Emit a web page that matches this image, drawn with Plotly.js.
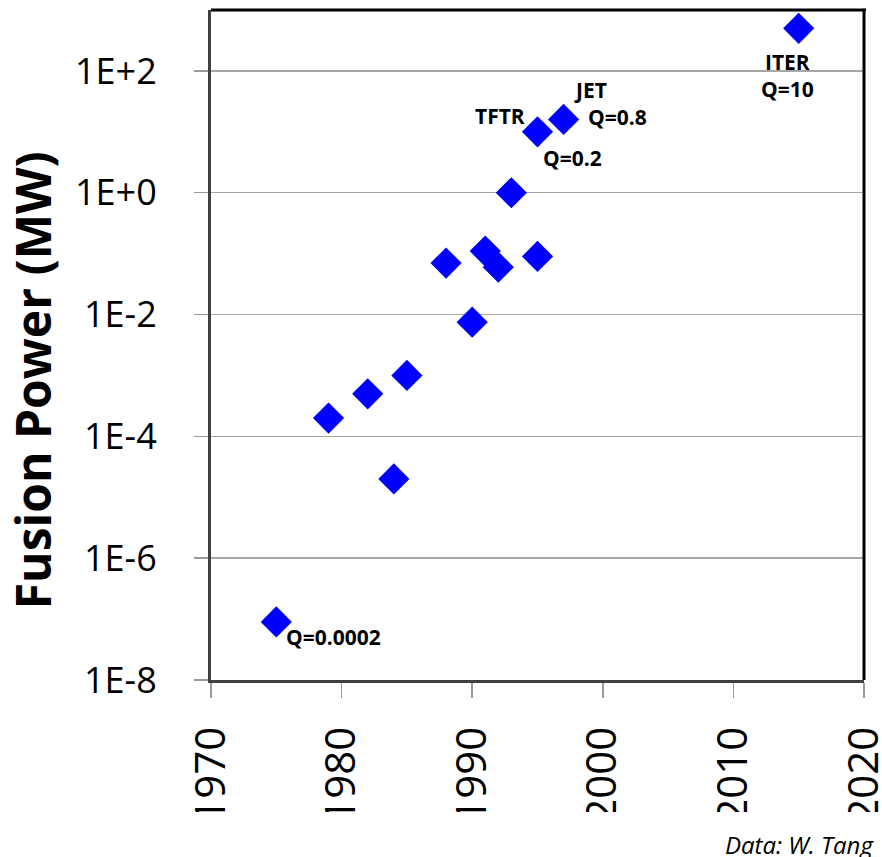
<!DOCTYPE html>
<html>
<head>
<meta charset="utf-8">
<script src="https://cdn.plot.ly/plotly-3.0.1.min.js"></script>
<style>html,body{margin:0;padding:0;background:#fff;}#chart{width:882px;height:857px;}</style>
</head>
<body>
<div id="chart"></div>
<script>
// Data
const years = [1975, 1979, 1982, 1984, 1985, 1988, 1990, 1991, 1992, 1993, 1995, 1995, 1997, 2015];
const fusionPowerMW = [9e-8, 2e-4, 5e-4, 2e-5, 1e-3, 0.07, 0.0075, 0.11, 0.06, 1.0, 0.09, 10, 16, 500];
const yTickVals = [1e-8, 1e-6, 1e-4, 1e-2, 1, 100];
const yTickText = ["1E-8", "1E-6", "1E-4", "1E-2", "1E+0", "1E+2"];
const xTickVals = [1970, 1980, 1990, 2000, 2010, 2020];
// point labels: [point index, text, xshift, yshift, xanchor]
const pointLabels = [
  [0, "Q=0.0002", 8, -15, "left"],
  [11, "TFTR", -11, 16, "right"],
  [11, "Q=0.2", 3, -26, "left"],
  [12, "JET", 8, 29, "left"],
  [12, "Q=0.8", 22, 2, "left"],
  [13, "ITER<br>Q=10", -11, -47, "center"]
];

const font = "Open Sans, Lato, sans-serif";

const trace = {
  x: years,
  y: fusionPowerMW,
  type: "scatter",
  mode: "markers",
  marker: {symbol: "diamond", size: 24, color: "#0000FF", line: {width: 0}},
  cliponaxis: false,
  hoverinfo: "x+y"
};

const annotations = pointLabels.map(function (p) {
  return {
    x: years[p[0]], y: Math.log10(fusionPowerMW[p[0]]),
    xref: "x", yref: "y", text: p[1], showarrow: false, align: "center",
    xanchor: p[4], yanchor: "middle", xshift: p[2], yshift: p[3],
    font: {family: font, size: 21, color: "#000", weight: "bold"}
  };
});
annotations.push({
  text: "Fusion Power (MW)", xref: "paper", yref: "paper",
  x: -0.273, y: 0.447, textangle: -90, showarrow: false,
  xanchor: "center", yanchor: "middle",
  font: {family: font, size: 48, color: "#000", weight: "bold"}
});
annotations.push({
  text: "<i>Data: W. Tang</i>", xref: "paper", yref: "paper",
  x: 1.018, y: -0.246, showarrow: false, xanchor: "right", yanchor: "middle",
  font: {family: font, size: 24, color: "#000"}
});

const layout = {
  width: 882, height: 857,
  margin: {l: 211, r: 18, t: 10, b: 177, pad: 0},
  paper_bgcolor: "#fff", plot_bgcolor: "#fff",
  showlegend: false,
  xaxis: {
    range: [1970, 2020], tickvals: xTickVals, ticktext: xTickVals.map(String),
    tickangle: -90, ticks: "outside", ticklen: 15, tickwidth: 1.5, tickcolor: "#999",
    showgrid: false, zeroline: false,
    showline: true, linecolor: "#404040", linewidth: 3,
    tickfont: {family: font, size: 42, color: "#000"},
    ticklabelstandoff: 12, ticklabeloverflow: "allow"
  },
  yaxis: {
    type: "log", range: [-8, 3], tickvals: yTickVals, ticktext: yTickText,
    ticks: "outside", ticklen: 14, tickwidth: 1.5, tickcolor: "#999",
    showgrid: true, gridcolor: "#A6A6A6", gridwidth: 1.5, zeroline: false,
    showline: true, linecolor: "#404040", linewidth: 3,
    tickfont: {family: font, size: 36, color: "#000"},
    ticklabelstandoff: 30
  },
  shapes: [
    {type: "line", xref: "paper", yref: "paper", x0: 0, x1: 1.003, y0: 1, y1: 1, line: {color: "#000", width: 3}, layer: "above"},
    {type: "line", xref: "paper", yref: "paper", x0: 1, x1: 1, y0: 0, y1: 1.002, line: {color: "#000", width: 3}, layer: "above"},
    {type: "rect", xref: "paper", yref: "paper", x0: -0.33, x1: 1.03, y0: -0.228, y1: -0.197, fillcolor: "#fff", line: {width: 0}, layer: "above"}
  ],
  annotations: annotations
};

Plotly.newPlot("chart", [trace], layout, {displayModeBar: false, staticPlot: true});
</script>
</body>
</html>
